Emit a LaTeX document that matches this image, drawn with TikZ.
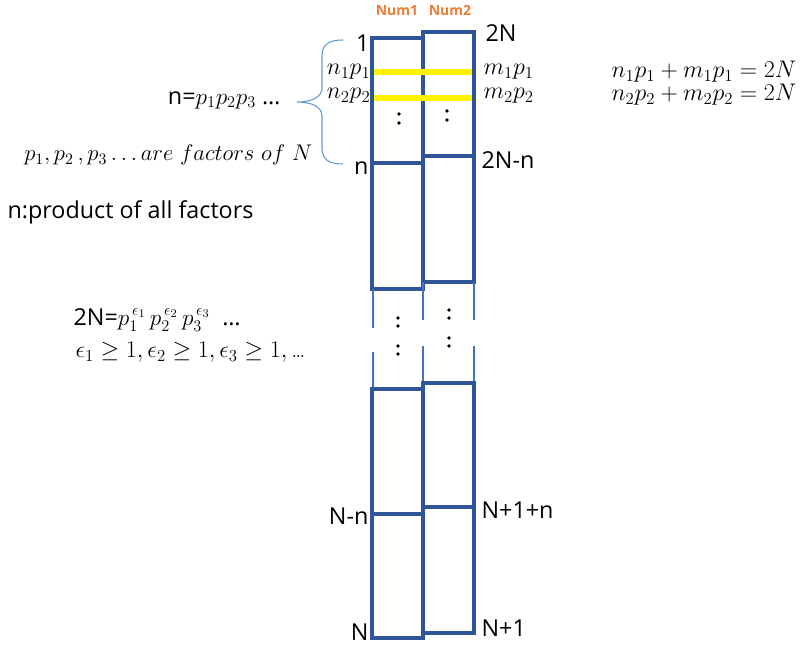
\documentclass[tikz,border=0pt]{standalone}
\usepackage{fix-cm}
\usepackage{amsmath}
\usepackage{fontspec}
\setsansfont{Open Sans}
\usepackage{tikz}
\usetikzlibrary{positioning,calc}

\definecolor{boxblue}{HTML}{2F5597}
\definecolor{thinblue}{HTML}{4472C4}
\definecolor{braceblue}{HTML}{5B9BD5}
\definecolor{numorange}{HTML}{ED7D31}

\tikzset{
    colbox/.style={draw=boxblue, line width=3pt},
    breakline/.style={draw=thinblue, line width=2pt},
    hitline/.style={draw=yellow, line width=4pt},
    lbl/.style={inner sep=1pt, font=\sffamily\fontsize{17.5}{20}\selectfont},
    mlbl/.style={inner sep=1pt, font=\fontsize{18}{20}\selectfont},
    headlbl/.style={inner sep=1pt, text=numorange, font=\sffamily\bfseries\fontsize{10.5}{12}\selectfont}
}

\begin{document}
\begin{tikzpicture}[x=0.75pt, y=-0.75pt, font=\sffamily]
        \useasboundingbox (0,0) rectangle (807,649);

        % column heads
        \node[headlbl] (num1) at (397,11) {Num1};
        \node[headlbl] (num2) at (450,11) {Num2};

        % upper part of the two columns
        \draw[colbox] (372,163) -- (372,38) -- (423,38) -- (423,289) -- (372,289) -- (372,163) -- (423,163);
        \draw[colbox] (423,32) rectangle (474,282);
        \draw[colbox] (423,156) -- (474,156);
        \draw[hitline] (374,72) -- (472,72);
        \draw[hitline] (374,98) -- (472,98);

        % broken middle part
        \draw[breakline] (373,289) -- (373,328) (373,352) -- (373,389);
        \draw[breakline] (423,282) -- (423,320) (423,346) -- (423,383);
        \draw[breakline] (474,282) -- (474,320) (474,346) -- (474,383);

        % lower part of the two columns
        \draw[colbox] (372,389) rectangle (423,638);
        \draw[colbox] (372,514) -- (423,514);
        \draw[colbox] (423,383) rectangle (474,633);
        \draw[colbox] (423,507) -- (474,507);

        % dots
        \fill (399,114) circle (1.8) (399,123) circle (1.8)
              (447,111) circle (1.8) (447,120) circle (1.8);
        \fill (398,318) circle (1.8) (398,326) circle (1.8)
              (398,346) circle (1.8) (398,354) circle (1.8);
        \fill (449,310) circle (1.8) (449,318) circle (1.8)
              (449,338) circle (1.8) (449,346) circle (1.8);

        % labels at the columns
        \node[lbl, anchor=east] (one) at (371,43) {1};
        \node[lbl, anchor=east] (small) at (370,168) {n};
        \node[lbl, anchor=east] (nmn) at (370,516) {N-n};
        \node[lbl, anchor=east] (bigN) at (370,632) {N};
        \node[lbl, anchor=west] (twoN) at (484,33) {2N};
        \node[lbl, anchor=west] (twoNmn) at (480,160) {2N-n};
        \node[lbl, anchor=west] (npop) at (480,510) {N+1+n};
        \node[lbl, anchor=west] (npo) at (480,628) {N+1};
        \node[mlbl, anchor=east] (nAp) at (372,72) {$n_1p_1$};
        \node[mlbl, anchor=east] (nBp) at (372,96) {$n_2p_2$};
        \node[mlbl, anchor=west] (mAp) at (482,72) {$m_1p_1$};
        \node[mlbl, anchor=west] (mBp) at (482,96) {$m_2p_2$};

        % brace
        \draw[braceblue, line width=0.8pt] (343,40) .. controls (328,40) and (322,45) .. (322,56)
            -- (322,88) .. controls (322,97) and (312,102) .. (297,102)
            .. controls (312,102) and (322,107) .. (322,116)
            -- (322,148) .. controls (322,159) and (328,164) .. (343,164);

        % notes
        \node[lbl, anchor=east] (prod) at (282,100) {n=$p_1p_2p_3$ \ldots};
        \node[mlbl, anchor=east, font=\fontsize{17}{19}\selectfont] (fact) at (314,155) {$p_1,p_2\,,p_3\ldots are\ factors\ of\ N$};
        \node[lbl, anchor=west] (allf) at (6,212) {n:product of all factors};
        \node[lbl, anchor=west] (pow) at (72,320) {2N=$p_1^{\,\epsilon_1}\,p_2^{\,\epsilon_2}\,p_3^{\,\epsilon_3}$\ \ \ldots};
        \node[mlbl, anchor=west] (eps) at (74,352) {$\epsilon_1\geq 1,\epsilon_2\geq 1,\epsilon_3\geq 1,$\,\ldots};
        \node[mlbl, anchor=west] (sumA) at (610,72) {$n_1p_1+m_1p_1=2N$};
        \node[mlbl, anchor=west] (sumB) at (610,95) {$n_2p_2+m_2p_2=2N$};
    \end{tikzpicture}
\end{document}
